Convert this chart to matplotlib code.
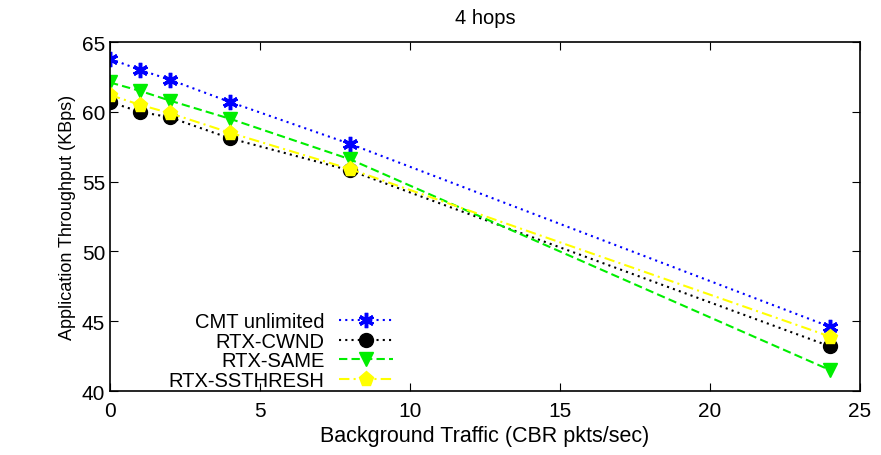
import matplotlib
matplotlib.use("Agg")
import matplotlib.pyplot as plt

plt.rcParams['font.family'] = ['Liberation Sans', 'DejaVu Sans']

# Data
traffic = [0, 1, 2, 4, 8, 24]
cmt_unlimited = [63.8, 63.0, 62.3, 60.7, 57.7, 44.6]
rtx_cwnd = [60.7, 60.0, 59.6, 58.1, 55.8, 43.2]
rtx_same = [62.1, 61.5, 60.8, 59.5, 56.6, 41.5]
rtx_ssthresh = [61.2, 60.5, 59.9, 58.5, 55.9, 43.9]

fig = plt.figure(figsize=(8.81, 4.56), dpi=100)
ax = fig.add_axes([110 / 881, 1 - 392 / 456, 750 / 881, 349 / 456])

ax.plot(traffic, cmt_unlimited, color='#0000ff', linestyle=(0, (1, 2)), lw=1.5,
        marker=(6, 2, 0), markersize=11, mew=2.5, label='CMT unlimited')
ax.plot(traffic, rtx_cwnd, color='black', linestyle=(0, (1, 2)), lw=1.5,
        marker='o', markersize=10, label='RTX-CWND')
ax.plot(traffic, rtx_same, color='#00ee00', linestyle=(0, (4, 2)), lw=1.5,
        marker='v', markersize=10, label='RTX-SAME')
ax.plot(traffic, rtx_ssthresh, color='#ffff00', linestyle=(0, (5, 2, 1, 2)), lw=1.5,
        marker='p', markersize=11, label='RTX-SSTHRESH')

ax.set_xlim(0, 25)
ax.set_ylim(40, 65)
ax.set_xticks(range(0, 26, 5))
ax.set_yticks(range(40, 66, 5))
ax.tick_params(direction='in', top=True, right=True, length=6, labelsize=15)
ax.tick_params(axis='x', pad=7)
for s in ax.spines.values():
    s.set_linewidth(1.2)

ax.set_xlabel('Background Traffic (CBR pkts/sec)', fontsize=15.5)
ax.set_ylabel('Application Throughput (KBps)', fontsize=13)
ax.set_title('4 hops', fontsize=14.5, pad=14)

ax.legend(loc='lower left', bbox_to_anchor=(0.054, -0.048), markerfirst=False,
          frameon=False, fontsize=14.5, handlelength=2.7, labelspacing=0.02,
          handletextpad=0.7, alignment='right')

fig.savefig('out.png', dpi=100)
